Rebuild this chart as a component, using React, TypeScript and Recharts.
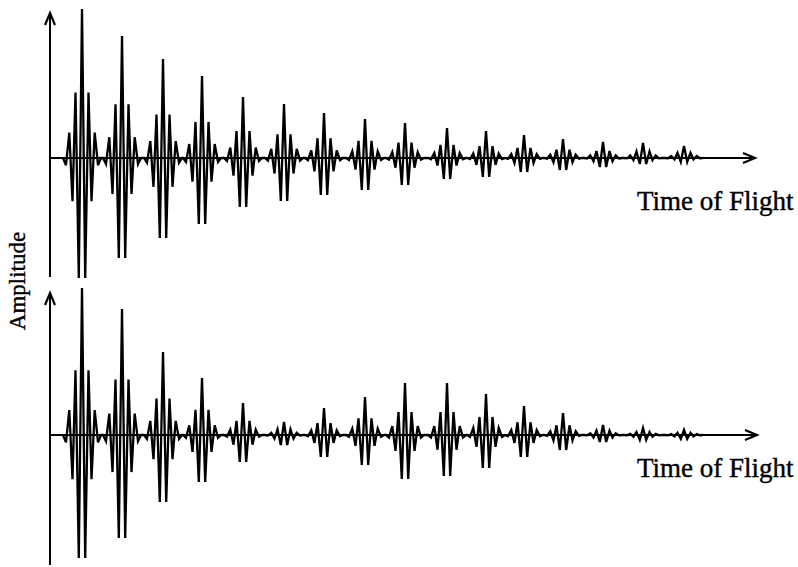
import { LineChart, Line, XAxis, YAxis, ReferenceLine } from "recharts"

// echo centre times along the axis (px-like units from the y axis)
const packetTimes = [32, 72, 113, 152, 193, 234, 274, 315, 355, 397, 436, 474, 513, 553, 593, 634]

// peak heights above / depths below the baseline for each echo
const upperPos = [149, 122, 99, 82, 61, 54, 45, 39, 35, 30, 27, 23, 19, 16, 15, 12]
const upperNeg = [120, 100, 80, 66, 49, 43, 37, 32, 27, 21, 19, 14, 12, 9, 6, 4]
const lowerPos = [147, 126, 83, 57, 32, 13, 27, 38, 52, 52, 41, 29, 22, 10, 7, 5]
const lowerNeg = [123, 103, 67, 47, 27, 10, 22, 30, 44, 41, 33, 22, 15, 7, 5, 4]

// one echo's oscillation
const pulseOffsets = [-19, -16, -12.7, -9.5, -6.5, -3.2, 0, 3.2, 6.5, 9.5, 12.7, 16, 19]
const pulseShape = [0, -0.06, 0.17, -0.36, 0.44, -1, 1, -1, 0.44, -0.36, 0.17, -0.06, 0]

const buildRows = (pos: number[], neg: number[]) => {
    const rows: { t: number; v: number }[] = []
    packetTimes.forEach((c, i) => {
        pulseOffsets.forEach((o, j) => {
            const s = pulseShape[j]
            rows.push({ t: c + o, v: s >= 0 ? s * pos[i] : s * neg[i] })
        })
    })
    return rows
}

const upperData = buildRows(upperPos, upperNeg)
const lowerData = buildRows(lowerPos, lowerNeg)

const Arrow = (props: any) => {
    const { x1, y1, x2, y2 } = props
    const dx = x2 - x1
    const dy = y2 - y1
    const len = Math.sqrt(dx * dx + dy * dy) || 1
    const ux = dx / len
    const uy = dy / len
    const bx = x2 - ux * 12
    const by = y2 - uy * 12
    const px = -uy * 5
    const py = ux * 5
    return (
        <g>
            <line x1={x1} y1={y1} x2={x2} y2={y2} stroke="#000" strokeWidth={2} />
            <path
                d={`M${bx + px},${by + py} L${x2},${y2} L${bx - px},${by - py}`}
                stroke="#000"
                strokeWidth={2.2}
                fill="none"
            />
        </g>
    )
}

const labelStyle: React.CSSProperties = {
    position: "absolute",
    fontFamily: "'Liberation Serif', 'Times New Roman', serif",
    fontSize: 27,
    color: "#000",
    whiteSpace: "nowrap",
    WebkitTextStroke: "0.4px #000",
}

function Panel({ data, domain, height, margin, yTop, yBottom, xEnd }: any) {
    return (
        <LineChart width={798} height={height} data={data} margin={margin}>
            <XAxis dataKey="t" type="number" domain={[0, 708]} hide />
            <YAxis type="number" domain={domain} hide />
            <ReferenceLine segment={[{ x: 0, y: 0 }, { x: xEnd, y: 0 }]} shape={Arrow} />
            <ReferenceLine segment={[{ x: 0, y: yBottom }, { x: 0, y: yTop }]} shape={Arrow} />
            <Line
                dataKey="v"
                type="linear"
                stroke="#000"
                strokeWidth={2.3}
                strokeLinejoin="miter"
                dot={false}
                isAnimationActive={false}
            />
        </LineChart>
    )
}

export default function App() {
    return (
        <div style={{ position: "absolute", left: 0, top: 0, width: 798, height: 567, background: "#fff" }}>
            <div style={{ position: "absolute", left: 0, top: 0 }}>
                <Panel
                    data={upperData}
                    domain={[-125, 150]}
                    height={290}
                    margin={{ top: 8, right: 40, bottom: 7, left: 50 }}
                    yTop={145}
                    yBottom={-119}
                    xEnd={705}
                />
            </div>
            <div style={{ position: "absolute", left: 0, top: 283 }}>
                <Panel
                    data={lowerData}
                    domain={[-130, 150]}
                    height={284}
                    margin={{ top: 2, right: 40, bottom: 2, left: 50 }}
                    yTop={142}
                    yBottom={-130}
                    xEnd={707}
                />
            </div>
            <div style={{ ...labelStyle, left: 637, top: 186 }}>Time of Flight</div>
            <div style={{ ...labelStyle, left: 637, top: 453 }}>Time of Flight</div>
            <div
                style={{
                    ...labelStyle,
                    fontSize: 23,
                    left: 18,
                    top: 281,
                    transform: "translate(-50%, -50%) rotate(-90deg)",
                }}
            >
                Amplitude
            </div>
        </div>
    )
}
